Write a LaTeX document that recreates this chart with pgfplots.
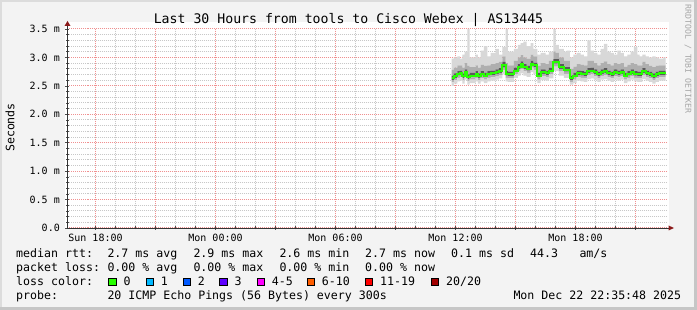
\documentclass[border=0pt]{standalone}
\usepackage{pgfplots}
\pgfplotsset{compat=1.18}
\usepackage{pgfplotstable}
\usepackage{fontspec}
\setmainfont{DejaVu Sans Mono}
\definecolor{bg}{HTML}{F3F3F3}
\definecolor{framelight}{HTML}{DCDCDC}
\definecolor{framedark}{HTML}{C6C6C6}
\definecolor{smokeA}{HTML}{D8D8D8}
\definecolor{smokeB}{HTML}{AFAFAF}
\definecolor{smokeC}{HTML}{5A5A5A}
\definecolor{medgreen}{HTML}{26FF00}
\definecolor{arrowred}{HTML}{8B1A1A}
\definecolor{mgrid}{HTML}{F09090}
\definecolor{ngrid}{HTML}{C8C8C8}
\definecolor{lc0}{HTML}{26FF00}
\definecolor{lc1}{HTML}{00B8FF}
\definecolor{lc2}{HTML}{0059FF}
\definecolor{lc3}{HTML}{5E00FF}
\definecolor{lc4}{HTML}{FF00FF}
\definecolor{lc6}{HTML}{FF5E00}
\definecolor{lc11}{HTML}{FF0000}
\definecolor{lc20}{HTML}{A10000}
\newcommand{\lgf}{\fontsize{11.6}{14}\selectfont}
\newcommand{\tkf}{\fontsize{10}{12}\selectfont}

\pgfplotstableread{
t     med  lo1  hi1  lo2  hi2  lo3  hi3
35.80 2.63 2.50 2.98 2.56 2.78 2.60 2.68
35.92 2.67 2.54 3.00 2.60 2.82 2.64 2.72
36.09 2.71 2.58 3.02 2.64 2.86 2.68 2.76
36.22 2.72 2.59 2.98 2.65 2.86 2.69 2.77
36.34 2.67 2.54 3.05 2.60 2.82 2.64 2.72
36.45 2.74 2.61 3.10 2.67 2.90 2.71 2.79
36.59 2.65 2.52 3.50 2.58 2.85 2.62 2.70
36.70 2.68 2.55 3.00 2.61 2.83 2.65 2.73
36.84 2.68 2.55 3.00 2.61 2.83 2.65 2.73
37.00 2.71 2.58 3.05 2.64 2.86 2.68 2.76
37.12 2.67 2.54 3.00 2.60 2.82 2.64 2.72
37.25 2.71 2.58 3.12 2.64 2.87 2.68 2.76
37.42 2.68 2.55 3.20 2.61 2.85 2.65 2.73
37.59 2.71 2.58 3.02 2.64 2.86 2.68 2.76
37.75 2.72 2.59 3.08 2.65 2.88 2.69 2.77
38.00 2.74 2.61 3.15 2.67 2.90 2.71 2.79
38.17 2.76 2.63 3.05 2.69 2.92 2.73 2.81
38.34 2.86 2.70 3.18 2.78 3.02 2.82 2.92
38.50 2.71 2.58 3.50 2.64 2.90 2.68 2.76
38.62 2.70 2.57 3.10 2.63 2.86 2.67 2.75
38.75 2.70 2.57 3.10 2.63 2.86 2.67 2.75
38.92 2.77 2.64 3.15 2.70 2.94 2.74 2.82
39.12 2.83 2.68 3.22 2.76 3.00 2.80 2.88
39.25 2.88 2.72 3.25 2.80 3.04 2.85 2.93
39.39 2.83 2.68 3.28 2.76 3.00 2.80 2.88
39.55 2.80 2.66 3.20 2.73 2.98 2.77 2.85
39.75 2.89 2.74 3.25 2.82 3.05 2.86 2.94
39.89 2.86 2.70 3.15 2.78 3.02 2.83 2.91
40.09 2.68 2.55 3.05 2.61 2.85 2.65 2.73
40.25 2.74 2.60 3.08 2.67 2.90 2.71 2.79
40.50 2.72 2.59 3.05 2.65 2.88 2.69 2.77
40.67 2.77 2.63 3.10 2.70 2.94 2.74 2.82
40.89 2.92 2.76 3.50 2.84 3.10 2.89 2.97
41.00 2.92 2.76 3.22 2.84 3.08 2.89 2.97
41.17 2.83 2.68 3.15 2.76 3.00 2.80 2.88
41.42 2.78 2.64 3.10 2.71 2.94 2.75 2.83
41.55 2.78 2.64 3.12 2.71 2.94 2.75 2.83
41.72 2.63 2.52 3.00 2.57 2.80 2.60 2.68
41.89 2.68 2.55 3.05 2.61 2.84 2.65 2.73
42.05 2.72 2.59 3.08 2.65 2.88 2.69 2.77
42.25 2.71 2.58 3.05 2.64 2.87 2.68 2.76
42.42 2.70 2.57 3.02 2.63 2.86 2.67 2.75
42.59 2.76 2.62 3.30 2.69 2.94 2.73 2.81
42.75 2.77 2.63 3.12 2.70 2.94 2.74 2.82
42.92 2.74 2.61 3.08 2.67 2.90 2.71 2.79
43.09 2.70 2.57 3.05 2.63 2.86 2.67 2.75
43.25 2.74 2.61 3.15 2.67 2.90 2.71 2.79
43.42 2.76 2.62 3.24 2.69 2.93 2.73 2.81
43.59 2.72 2.59 3.10 2.65 2.88 2.69 2.77
43.75 2.70 2.57 3.08 2.63 2.86 2.67 2.75
43.92 2.74 2.61 3.05 2.67 2.90 2.71 2.79
44.09 2.72 2.59 3.12 2.65 2.88 2.69 2.77
44.25 2.74 2.61 3.08 2.67 2.90 2.71 2.79
44.42 2.68 2.55 3.02 2.61 2.84 2.65 2.73
44.59 2.71 2.58 3.05 2.64 2.87 2.68 2.76
44.75 2.74 2.61 3.10 2.67 2.90 2.71 2.79
44.92 2.71 2.58 3.18 2.64 2.88 2.68 2.76
45.09 2.70 2.57 3.05 2.63 2.86 2.67 2.75
45.20 2.70 2.57 3.02 2.63 2.86 2.67 2.75
45.34 2.76 2.62 3.05 2.69 2.92 2.73 2.81
45.50 2.72 2.59 3.02 2.65 2.88 2.69 2.77
45.67 2.70 2.57 3.00 2.63 2.85 2.67 2.75
45.84 2.67 2.54 3.02 2.60 2.83 2.64 2.72
46.00 2.70 2.57 3.00 2.63 2.85 2.67 2.75
46.17 2.72 2.59 2.98 2.65 2.86 2.69 2.77
46.39 2.72 2.59 3.00 2.65 2.86 2.69 2.77
46.50 2.72 2.59 2.98 2.65 2.86 2.69 2.77
}\smoke

\pgfplotsset{
  rrdframe/.style={
    at={(67.5pt,82pt)}, anchor=south west,
    scale only axis, width=600pt, height=199pt,
    xmin=16.6, xmax=46.6, ymin=0, ymax=3.5,
  },
}

\begin{document}
\begin{tikzpicture}[x=1pt,y=1pt]
\useasboundingbox (0,0) rectangle (697,310);
\fill[bg] (0,0) rectangle (697,310);
\fill[framelight] (0,0) rectangle (2,310);
\fill[framelight] (0,308) rectangle (697,310);
\fill[framedark] (0,0) rectangle (697,3);
\fill[framedark] (694,0) rectangle (697,310);
\fill[white] (64.5,82) rectangle (668.5,288);

% axis with grid, ticks and labels
\begin{axis}[
  rrdframe,
  axis lines*=left,
  axis line style={black!80, line width=0.8pt},
  xtick={18,21,24,27,30,33,36,39,42,45},
  xticklabels={Sun 18:00,,Mon 00:00,,Mon 06:00,,Mon 12:00,,Mon 18:00,},
  minor x tick num=2,
  ytick={0,0.5,1,1.5,2,2.5,3,3.5},
  yticklabels={0.0,0.5 m,1.0 m,1.5 m,2.0 m,2.5 m,3.0 m,3.5 m},
  minor y tick num=4,
  grid=both,
  major grid style={mgrid, line width=1pt, dash pattern=on 1pt off 1pt},
  minor grid style={ngrid, line width=1pt, dash pattern=on 1pt off 1pt},
  every axis x grid/.append style={dash phase=0.5pt},
  tick align=center,
  major tick length=4pt, minor tick length=3pt,
  every tick/.style={black!70, line width=0.6pt},
  xticklabel style={font=\tkf, anchor=base, inner sep=0pt, yshift=-12pt},
  yticklabel style={font=\tkf, anchor=east, inner sep=0pt, xshift=-5.5pt},
  /pgf/number format/assume math mode=true,
]
\addplot[draw=none] coordinates {(16.6,0) (46.6,3.5)};
\end{axis}

% smoke, stacked bands
\begin{axis}[rrdframe, hide axis, stack plots=y]
\addplot[draw=none, const plot] table[x=t, y=lo1]{\smoke};
\addplot[fill=smokeA, draw=none, const plot] table[x=t, y expr=\thisrow{lo2}-\thisrow{lo1}]{\smoke} \closedcycle;
\addplot[fill=smokeB, draw=none, const plot] table[x=t, y expr=\thisrow{lo3}-\thisrow{lo2}]{\smoke} \closedcycle;
\addplot[fill=smokeC, draw=none, const plot] table[x=t, y expr=\thisrow{hi3}-\thisrow{lo3}]{\smoke} \closedcycle;
\addplot[fill=smokeB, draw=none, const plot] table[x=t, y expr=\thisrow{hi2}-\thisrow{hi3}]{\smoke} \closedcycle;
\addplot[fill=smokeA, draw=none, const plot] table[x=t, y expr=\thisrow{hi1}-\thisrow{hi2}]{\smoke} \closedcycle;
\end{axis}

% median line
\begin{axis}[rrdframe, hide axis]
\addplot[const plot, draw=medgreen, line width=2pt] table[x=t, y=med]{\smoke};
\end{axis}

% axis extensions and arrows
\draw[black!80, line width=0.8pt] (67.5,281) -- (67.5,284);
\fill[arrowred] (64.5,284) -- (70.5,284) -- (67.5,289) -- cycle;
\draw[black!80, line width=0.8pt] (667.5,82) -- (668.5,82);
\fill[arrowred] (668.5,79.5) -- (668.5,84.5) -- (674,82) -- cycle;

% title
\node[anchor=base, inner sep=0pt] at (348.5,286) {\fontsize{13.2}{15}\selectfont Last 30 Hours from tools to Cisco Webex | AS13445};
% y label
\node[rotate=90, inner sep=0pt] at (10,182.5) {\lgf Seconds};
% rrdtool credit
\node[rotate=-90, inner sep=0pt, text=black!35] at (688,251) {\fontsize{8.2}{10}\selectfont RRDTOOL / TOBI OETIKER};

% legend line 1
\node[anchor=base west, inner sep=0pt] at (16,52.5) {\lgf median rtt:};
\node[anchor=base west, inner sep=0pt] at (107.3,52.5) {\lgf 2.7 ms avg};
\node[anchor=base west, inner sep=0pt] at (193.3,52.5) {\lgf 2.9 ms max};
\node[anchor=base west, inner sep=0pt] at (279.3,52.5) {\lgf 2.6 ms min};
\node[anchor=base west, inner sep=0pt] at (365,52.5) {\lgf 2.7 ms now};
\node[anchor=base west, inner sep=0pt] at (451,52.5) {\lgf 0.1 ms sd};
\node[anchor=base west, inner sep=0pt] at (530,52.5) {\lgf 44.3};
\node[anchor=base west, inner sep=0pt] at (579.3,52.5) {\lgf am/s};
% legend line 2
\node[anchor=base west, inner sep=0pt] at (16,38.3) {\lgf packet loss:};
\node[anchor=base west, inner sep=0pt] at (107.3,38.3) {\lgf 0.00 \% avg};
\node[anchor=base west, inner sep=0pt] at (193.3,38.3) {\lgf 0.00 \% max};
\node[anchor=base west, inner sep=0pt] at (279.3,38.3) {\lgf 0.00 \% min};
\node[anchor=base west, inner sep=0pt] at (365,38.3) {\lgf 0.00 \% now};
% legend line 3
\node[anchor=base west, inner sep=0pt] at (16,24.2) {\lgf loss color:};
\filldraw[fill=lc0, draw=black, line width=0.6pt] (108.5,24.5) rectangle (116,32);
\node[anchor=base west, inner sep=0pt] at (123.3,24.2) {\lgf 0};
\filldraw[fill=lc1, draw=black, line width=0.6pt] (145.8,24.5) rectangle (153.3,32);
\node[anchor=base west, inner sep=0pt] at (160.7,24.2) {\lgf 1};
\filldraw[fill=lc2, draw=black, line width=0.6pt] (182.8,24.5) rectangle (190.3,32);
\node[anchor=base west, inner sep=0pt] at (197.7,24.2) {\lgf 2};
\filldraw[fill=lc3, draw=black, line width=0.6pt] (219.5,24.5) rectangle (227,32);
\node[anchor=base west, inner sep=0pt] at (234.3,24.2) {\lgf 3};
\filldraw[fill=lc4, draw=black, line width=0.6pt] (256.8,24.5) rectangle (264.3,32);
\node[anchor=base west, inner sep=0pt] at (271.7,24.2) {\lgf 4-5};
\filldraw[fill=lc6, draw=black, line width=0.6pt] (306.8,24.5) rectangle (314.3,32);
\node[anchor=base west, inner sep=0pt] at (321.7,24.2) {\lgf 6-10};
\filldraw[fill=lc11, draw=black, line width=0.6pt] (365.2,24.5) rectangle (372.7,32);
\node[anchor=base west, inner sep=0pt] at (380,24.2) {\lgf 11-19};
\filldraw[fill=lc20, draw=black, line width=0.6pt] (431.2,24.5) rectangle (438.7,32);
\node[anchor=base west, inner sep=0pt] at (446,24.2) {\lgf 20/20};
% legend line 4
\node[anchor=base west, inner sep=0pt] at (16,10) {\lgf probe:};
\node[anchor=base west, inner sep=0pt] at (107.3,10) {\lgf 20 ICMP Echo Pings (56 Bytes) every 300s};
\node[anchor=base west, inner sep=0pt] at (513.3,10) {\lgf Mon Dec 22 22:35:48 2025};
\end{tikzpicture}
\end{document}
